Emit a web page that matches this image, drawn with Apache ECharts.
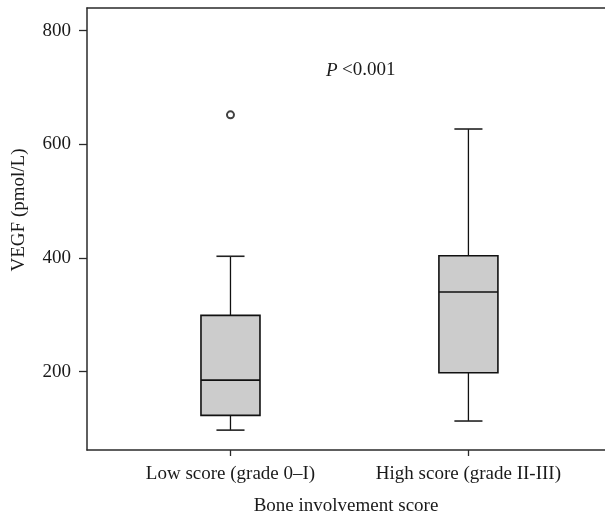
<!DOCTYPE html>
<html>
<head>
<meta charset="utf-8">
<script src="https://cdn.jsdelivr.net/npm/echarts@6/dist/echarts.min.js"></script>
<style>html,body{margin:0;padding:0;background:#fff}#c{width:605px;height:514px}</style>
</head>
<body>
<div id="c"></div>
<script>
const categories = ['Low score (grade 0\u2013I)', 'High score (grade II-III)'];
const whiskerLow = [97, 113];
const q1 = [123, 198];
const median = [185, 340];
const q3 = [299, 404];
const whiskerHigh = [403, 627];
const outliers = [[1, 652]];
const yTicks = [200, 400, 600, 800];
const xTicks = [1, 2];

const boxData = categories.map((c, i) => [i + 1, whiskerLow[i], q1[i], median[i], q3[i], whiskerHigh[i]]);

const FONT = '"Liberation Serif", "DejaVu Serif", serif';
const TXT = '#1a1a1a';
const AX = '#2a2a2a';
const FS = 19;

function renderBox(params, api) {
  const x = api.value(0);
  const pMin = api.coord([x, api.value(1)]);
  const pQ1 = api.coord([x, api.value(2)]);
  const pMed = api.coord([x, api.value(3)]);
  const pQ3 = api.coord([x, api.value(4)]);
  const pMax = api.coord([x, api.value(5)]);
  const bw = api.size([0.248, 0])[0];
  const cw = api.size([0.118, 0])[0];
  const cx = pMed[0];
  const lineStyle = { stroke: '#111', lineWidth: 1.3, fill: null };
  return {
    type: 'group',
    children: [
      { type: 'line', shape: { x1: cx, y1: pMin[1], x2: cx, y2: pQ1[1] }, style: lineStyle },
      { type: 'line', shape: { x1: cx, y1: pQ3[1], x2: cx, y2: pMax[1] }, style: lineStyle },
      { type: 'line', shape: { x1: cx - cw / 2, y1: pMin[1], x2: cx + cw / 2, y2: pMin[1] }, style: { stroke: '#222', lineWidth: 1.6 } },
      { type: 'line', shape: { x1: cx - cw / 2, y1: pMax[1], x2: cx + cw / 2, y2: pMax[1] }, style: { stroke: '#222', lineWidth: 1.6 } },
      { type: 'rect', shape: { x: cx - bw / 2, y: pQ3[1], width: bw, height: pQ1[1] - pQ3[1] }, style: { fill: '#cccccc', stroke: '#111', lineWidth: 1.6 } },
      { type: 'line', shape: { x1: cx - bw / 2, y1: pMed[1], x2: cx + bw / 2, y2: pMed[1] }, style: { stroke: '#111', lineWidth: 1.6 } }
    ]
  };
}

const chart = echarts.init(document.getElementById('c'), null, { renderer: 'canvas' });
chart.setOption({
  animation: false,
  backgroundColor: '#fff',
  textStyle: { fontFamily: FONT, color: TXT },
  title: {
    left: 321, top: 56,
    text: '{i|P} {n|<0.001}',
    textStyle: {
      fontWeight: 'normal',
      rich: {
        i: { fontFamily: FONT, fontStyle: 'italic', fontWeight: 'normal', fontSize: FS, color: TXT },
        n: { fontFamily: FONT, fontWeight: 'normal', fontSize: FS, color: TXT }
      }
    }
  },
  grid: { left: 87, top: 8, right: 0, bottom: 64, outerBoundsMode: 'none', containLabel: false },
  xAxis: [{
    type: 'value', min: 0.397, max: 2.574,
    splitLine: { show: false },
    axisLine: { show: true, lineStyle: { color: AX, width: 1.5 } },
    axisTick: { show: true, length: 6, customValues: xTicks, lineStyle: { color: AX, width: 1.3 } },
    axisLabel: {
      customValues: xTicks, margin: 15, fontSize: FS, fontFamily: FONT, color: TXT,
      formatter: v => categories[Math.round(v) - 1] || ''
    },
    name: 'Bone involvement score', nameLocation: 'middle', nameGap: 47,
    nameTextStyle: { fontSize: FS, fontFamily: FONT, color: TXT }
  }, {
    type: 'value', position: 'top', min: 0.397, max: 2.574,
    splitLine: { show: false },
    axisLine: { show: true, lineStyle: { color: AX, width: 1.5 } },
    axisTick: { show: false }, axisLabel: { show: false }
  }],
  yAxis: {
    type: 'value', min: 62, max: 840,
    splitLine: { show: false },
    axisLine: { show: true, lineStyle: { color: AX, width: 1.5 } },
    axisTick: { show: true, length: 8, customValues: yTicks, lineStyle: { color: AX, width: 1.3 } },
    axisLabel: { customValues: yTicks, margin: 16, fontSize: FS, fontFamily: FONT, color: TXT },
    name: 'VEGF (pmol/L)', nameLocation: 'middle', nameGap: 58,
    nameTextStyle: { fontSize: FS, fontFamily: FONT, color: TXT, padding: [0, 0, 0, 38] }
  },
  series: [
    { type: 'custom', renderItem: renderBox, data: boxData, encode: { x: 0, y: [1, 2, 3, 4, 5] }, z: 3 },
    { type: 'scatter', data: outliers, symbol: 'emptyCircle', symbolSize: 7,
      itemStyle: { color: '#111', borderColor: '#111', borderWidth: 1.1 }, z: 4 }
  ]
});
</script>
</body>
</html>
